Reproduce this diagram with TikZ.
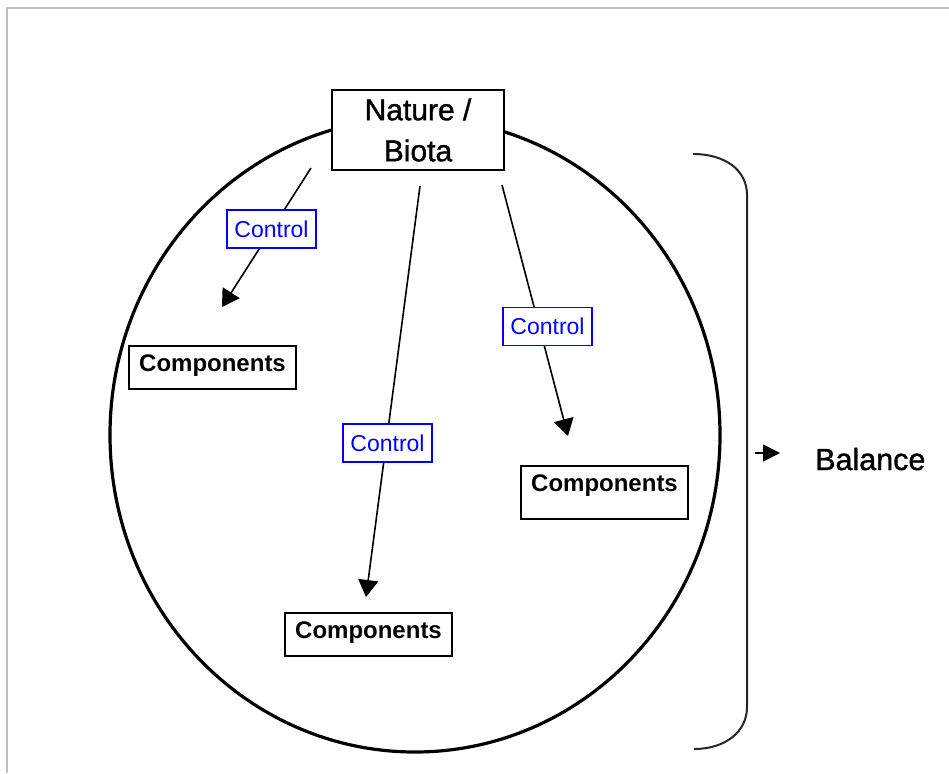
\documentclass[tikz,border=0pt]{standalone}
\usepackage{fontspec}
\setmainfont{Liberation Sans}
\newfontfamily\heavyfont[FakeBold=1.2]{Liberation Sans}
\usetikzlibrary{arrows.meta}
\begin{document}
\begin{tikzpicture}[x=1pt,y=-1pt,
  comp/.style={draw, line width=2pt, font=\fontsize{24}{28}\selectfont\bfseries, minimum width=167pt, text height=17pt, inner xsep=0pt, inner ysep=8pt, anchor=north},
  ctrl/.style={draw=blue, text=blue, fill=white, line width=1.5pt, font=\fontsize{23}{27}\selectfont, minimum width=89pt, minimum height=38pt, inner sep=0pt},
  ar/.style={line width=1.6pt, -{Triangle[length=17pt,width=20pt]}},
  frame/.style={draw=black!25, line width=2pt},
  bracket/.style={draw=black!85, line width=2pt},
]
\useasboundingbox (0,0) rectangle (949,773);
\fill[white] (0,0) rectangle (949,773);
\draw[frame] (949,8) -- (7,8) -- (7,773);

% main circle
\draw[line width=3.2pt] (415,435) ellipse [x radius=305, y radius=317];

% nature node
\node[draw, fill=white, line width=2pt, minimum width=172pt, minimum height=80pt, align=center,
      font=\heavyfont\fontsize{30}{41}\selectfont] (nature) at (418,130) {Nature /\\Biota};

% components
\node[comp, text depth=10pt] (c1) at (212.5,345) {Components};
\node[comp, text depth=20pt] (c2) at (604.5,465) {Components};
\node[comp, text depth=10pt] (c3) at (368.5,612) {Components};

% arrow endpoints
\coordinate (s1) at (311,168);
\coordinate (e1) at (222,307);
\coordinate (s2) at (420,186);
\coordinate (e2) at (366,597);
\coordinate (s3) at (502,185);
\coordinate (e3) at (568,436);

\draw[ar] (s1) -- (e1);
\draw[ar] (s2) -- (e2);
\draw[ar] (s3) -- (e3);

% control labels
\node[ctrl] (k1) at (271.5,229) {Control};
\node[ctrl] (k2) at (547.5,326.5) {Control};
\node[ctrl] (k3) at (387.5,443) {Control};

% bracket
\draw[bracket] (693,154) .. controls (725,154) and (747,170) .. (747,195)
  -- (747,707) .. controls (747,732) and (725,749) .. (694,749);

% balance
\node[anchor=base west, inner sep=0pt, font=\heavyfont\fontsize{30.5}{36}\selectfont] (bal) at (815,470) {Balance};
\coordinate (bs) at (755,453);
\coordinate (be) at (780,453);
\draw[line width=1.6pt, -{Triangle[length=17pt,width=17pt]}] (bs) -- (be);
\end{tikzpicture}
\end{document}
